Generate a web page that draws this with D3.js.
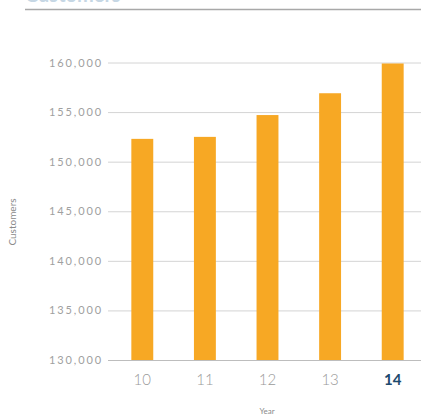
<!DOCTYPE html>
<html>
<head>
<meta charset="utf-8">
<script src="https://cdn.jsdelivr.net/npm/d3@7/dist/d3.min.js"></script>
<style>
  html, body { margin: 0; padding: 0; background: #fff; }
  svg { display: block; }
  text { font-family: Lato, "Open Sans", sans-serif; }
</style>
</head>
<body>
<svg id="chart" width="421" height="419"></svg>
<script>
// Customers per year
const years = ["10", "11", "12", "13", "14"];
const customers = [152300, 152500, 154700, 156900, 159900];
const yTicks = [130000, 135000, 140000, 145000, 150000, 155000, 160000];
const highlightYear = "14";

const svg = d3.select("#chart");
const W = 421, H = 419;

// Heading (sits above the top edge) and rule
svg.append("text")
  .attr("x", 25).attr("y", 1.5)
  .attr("font-size", 20).attr("font-weight", 700)
  .attr("fill", "#5d8fb5")
  .attr("opacity", 0.35)
  .text("Customers");
svg.append("line")
  .attr("x1", 25).attr("x2", W)
  .attr("y1", 9.5).attr("y2", 9.5)
  .attr("stroke", "#a8a8a8").attr("stroke-width", 1.5);

const x = d3.scaleBand()
  .domain(years)
  .range([111, 424])
  .paddingInner(0.65)
  .paddingOuter(0.325);

const y = d3.scaleLinear()
  .domain([130000, 160000])
  .range([360, 62.5]);

// Gridlines and y tick labels
const yAxis = d3.axisLeft(y)
  .tickValues(yTicks)
  .tickSize(-(W - 108))
  .tickPadding(5)
  .tickFormat(d3.format(","));

const gy = svg.append("g")
  .attr("transform", "translate(108,0)")
  .call(yAxis);
gy.select(".domain").remove();
gy.selectAll(".tick line")
  .attr("stroke", d => d === 130000 ? "#bdbdbd" : "#d4d4d4")
  .attr("stroke-width", 1);
gy.selectAll(".tick text")
  .attr("font-size", 11)
  .attr("letter-spacing", 1.9)
  .attr("fill", "#a0a0a0")
  .attr("font-family", "Lato, sans-serif");

// Bars
svg.append("g").selectAll("rect")
  .data(customers)
  .join("rect")
  .attr("x", (d, i) => x(years[i]))
  .attr("width", x.bandwidth())
  .attr("y", d => y(d))
  .attr("height", d => y(130000) - y(d))
  .attr("fill", "#f7a824");

// X axis labels
const xAxis = d3.axisBottom(x).tickSize(0).tickPadding(14);
const gx = svg.append("g")
  .attr("transform", "translate(0,360)")
  .call(xAxis);
gx.select(".domain").remove();
gx.selectAll(".tick text")
  .attr("font-size", 15)
  .attr("font-family", "Lato, sans-serif")
  .attr("font-weight", d => d === highlightYear ? 700 : 300)
  .attr("fill", d => d === highlightYear ? "#1d4a6e" : "#9a9a9a");

// Axis titles
svg.append("text")
  .attr("x", 267).attr("y", 414)
  .attr("text-anchor", "middle")
  .attr("font-size", 8)
  .attr("fill", "#8a8a8a")
  .text("Year");

svg.append("text")
  .attr("transform", "translate(16,222) rotate(-90)")
  .attr("text-anchor", "middle")
  .attr("font-size", 10)
  .attr("fill", "#8a8a8a")
  .text("Customers");
</script>
</body>
</html>
